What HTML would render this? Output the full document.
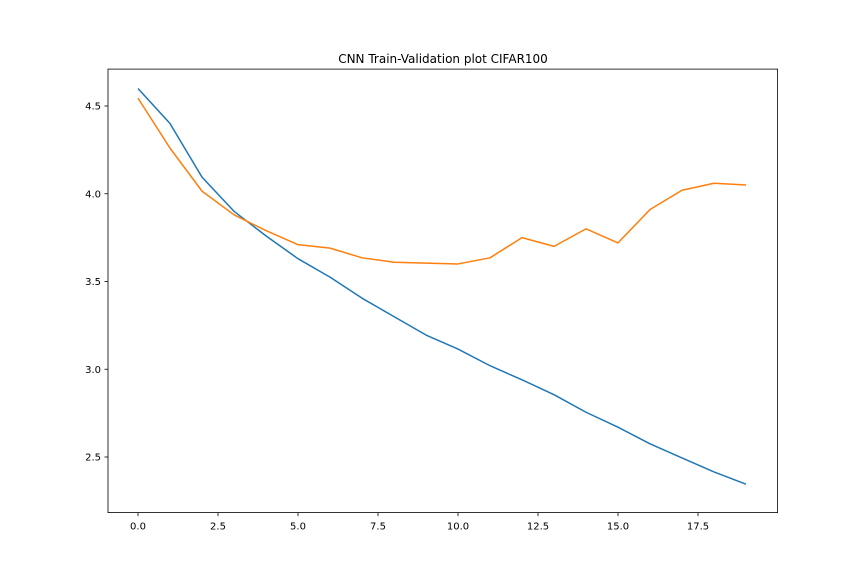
<!DOCTYPE html>
<html><head><meta charset="utf-8"><style>
html,body{margin:0;padding:0;background:#fff;}
svg text{font-family:"DejaVu Sans","Liberation Sans",sans-serif;}
</style></head><body>
<svg id="chart" width="864" height="576" xmlns="http://www.w3.org/2000/svg">
<rect width="864" height="576" fill="#fff"/>
<text x="443" y="63" font-size="12" text-anchor="middle" fill="#000">CNN Train-Validation plot CIFAR100</text>
<g id="axes"></g>
</svg>
<script>
const epochs = [0,1,2,3,4,5,6,7,8,9,10,11,12,13,14,15,16,17,18,19];
const trainLoss = [4.60,4.40,4.095,3.90,3.76,3.63,3.525,3.405,3.30,3.195,3.115,3.02,2.94,2.855,2.755,2.67,2.575,2.495,2.415,2.345];
const valLoss = [4.545,4.26,4.015,3.88,3.79,3.71,3.69,3.635,3.61,3.605,3.60,3.635,3.75,3.70,3.80,3.72,3.91,4.02,4.06,4.05];
const xTicks = [0,2.5,5,7.5,10,12.5,15,17.5];
const xTickLabels = ["0.0","2.5","5.0","7.5","10.0","12.5","15.0","17.5"];
const yTicks = [2.5,3.0,3.5,4.0,4.5];
const yTickLabels = ["2.5","3.0","3.5","4.0","4.5"];

const L=108,R=777.6,T=69.1,B=512.6;
const xs = v => 138 + v*32;
const ys = v => 457 - (v-2.5)*175.5;
const NS="http://www.w3.org/2000/svg";
const g=document.getElementById('axes');
function mk(tag,attrs){const e=document.createElementNS(NS,tag);for(const k in attrs)e.setAttribute(k,attrs[k]);g.appendChild(e);return e;}

xTicks.forEach((t,i)=>{
  const l=mk('line',{x1:xs(t),x2:xs(t),y1:B,y2:B+3.5,stroke:'#000','stroke-width':0.8});
  
  
  const tx=mk('text',{x:xs(t),y:B+17,'font-size':10,'text-anchor':'middle',fill:'#000'});
  tx.textContent=xTickLabels[i];
  
  
});
yTicks.forEach((t,i)=>{
  const l=mk('line',{x1:L-3.5,x2:L,y1:ys(t),y2:ys(t),stroke:'#000','stroke-width':0.8});
  
  
  const tx=mk('text',{x:L-7,y:ys(t)+3.5,'font-size':10,'text-anchor':'end',fill:'#000'});
  tx.textContent=yTickLabels[i];
  
  
});
function line(data,color,name){
  const p=mk('polyline',{points:data.map((v,i)=>xs(epochs[i])+','+ys(v)).join(' '),fill:'none',stroke:color,'stroke-width':1.5,'stroke-linejoin':'round'});
  
  
}
line(trainLoss,'#1f77b4','train-loss-line');
line(valLoss,'#ff7f0e','validation-loss-line');
const f=mk('rect',{x:L,y:T,width:R-L,height:B-T,fill:'none',stroke:'#000','stroke-width':0.8});


</script>
</body></html>
